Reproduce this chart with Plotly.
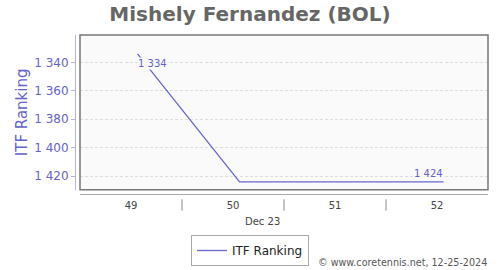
import plotly.graph_objects as go

# ---- data ----
weeks = [49, 50, 51, 52]
rank = [1334, 1424, 1424, 1424]
week_labels = ["49", "50", "51", "52"]
month_label = "Dec 23"
series_name = "ITF Ranking"
title_text = "Mishely Fernandez (BOL)"
credit = "© www.coretennis.net, 12-25-2024"

# ---- style ----
W, H = 500, 270
ML, MR, MT, MB = 75, 12, 35, 76
PW = W - ML - MR
PH = H - MT - MB
LINE = "#6666cc"
LABEL = "#6262c8"
FONT = "DejaVu Sans"
off = 0.064  # points sit slightly right of week centres

def fmt(v):
    return f"{v:,}".replace(",", " ")

fig = go.Figure()
fig.add_trace(go.Scatter(
    x=weeks, y=rank, mode="lines", name=series_name,
    line=dict(color=LINE, width=1.3),
))

fig.update_layout(
    width=W, height=H,
    margin=dict(l=ML, r=MR, t=MT, b=MB, pad=0),
    paper_bgcolor="white", plot_bgcolor="#fafafa",
    font=dict(family=FONT, size=10, color="#444"),
    separators=". ",
    title=dict(text=f"<b>{title_text}</b>", x=0.5, xanchor="center",
               y=1 - 14 / H, yanchor="middle", yref="container",
               font=dict(size=20, color="#666666", family=FONT)),
    showlegend=True,
    legend=dict(orientation="h", xref="container", yref="container",
                x=0.5, xanchor="center", y=1 - 235 / H, yanchor="top",
                bordercolor="#aaaaaa", borderwidth=1, bgcolor="white",
                font=dict(size=12, color="#222", family=FONT),
                itemwidth=30),
)

fig.update_xaxes(
    domain=[5 / PW, 1], anchor="free", position=0,
    range=[48.5 - off, 52.5 - off],
    tickmode="array", tickvals=[w - off for w in weeks],
    ticktext=week_labels,
    showgrid=False, zeroline=False,
    showline=True, linecolor="#aaaaaa", linewidth=1,
    ticks="outside", ticklen=2, tickcolor="rgba(0,0,0,0)",
    tickfont=dict(size=10, color="#444", family=FONT),
)
fig.update_yaxes(
    domain=[4.3 / PH, 1], anchor="free", position=0,
    range=[1429.5, 1320.8],
    tickmode="array", tickvals=[1340, 1360, 1380, 1400, 1420],
    tickformat=",d",
    showgrid=True, gridcolor="#dddddd", griddash="3px,2px", gridwidth=1,
    zeroline=False,
    showline=True, linecolor="#b4b4e4", linewidth=1,
    ticks="outside", ticklen=4, tickcolor="#b4b4e4",
    tickfont=dict(size=12, color=LABEL, family=FONT),
    title=dict(text=series_name, standoff=1,
               font=dict(size=15, color=LABEL, family=FONT)),
)

# plot frame
fig.add_shape(type="rect", xref="x domain", yref="y domain",
              x0=0, x1=1, y0=0, y1=1, line=dict(color="#777777", width=1.5),
              layer="above")

# week separators
for w in weeks[:-1]:
    fig.add_shape(type="line", xref="x", yref="paper",
                  x0=w + 0.5 - off, x1=w + 0.5 - off, y0=-5.3 / PH, y1=-16.7 / PH,
                  line=dict(color="#888888", width=1))

# value labels (first and last)
fig.add_annotation(x=weeks[0], y=rank[0], text=fmt(rank[0]), showarrow=False,
                   xanchor="left", yanchor="top", yshift=-3, xshift=-1,
                   bgcolor="#fafafa", borderpad=0,
                   font=dict(size=10, color=LABEL, family=FONT))
fig.add_annotation(x=weeks[-1], y=rank[-1], text=fmt(rank[-1]), showarrow=False,
                   xanchor="right", yanchor="bottom", yshift=2,
                   bgcolor="#fafafa", borderpad=0,
                   font=dict(size=10, color=LABEL, family=FONT))

# month label
fig.add_annotation(xref="paper", yref="paper", x=(262 - ML) / PW,
                   y=-(221 - (MT + PH)) / PH, text=month_label, showarrow=False,
                   xanchor="center", yanchor="middle",
                   font=dict(size=10, color="#444", family=FONT))
# credit
fig.add_annotation(xref="paper", yref="paper", x=(489 - ML) / PW,
                   y=-(262 - (MT + PH)) / PH, text=credit, showarrow=False,
                   xanchor="right", yanchor="middle",
                   font=dict(size=9.6, color="#555", family=FONT))

fig.write_html("out.html")
